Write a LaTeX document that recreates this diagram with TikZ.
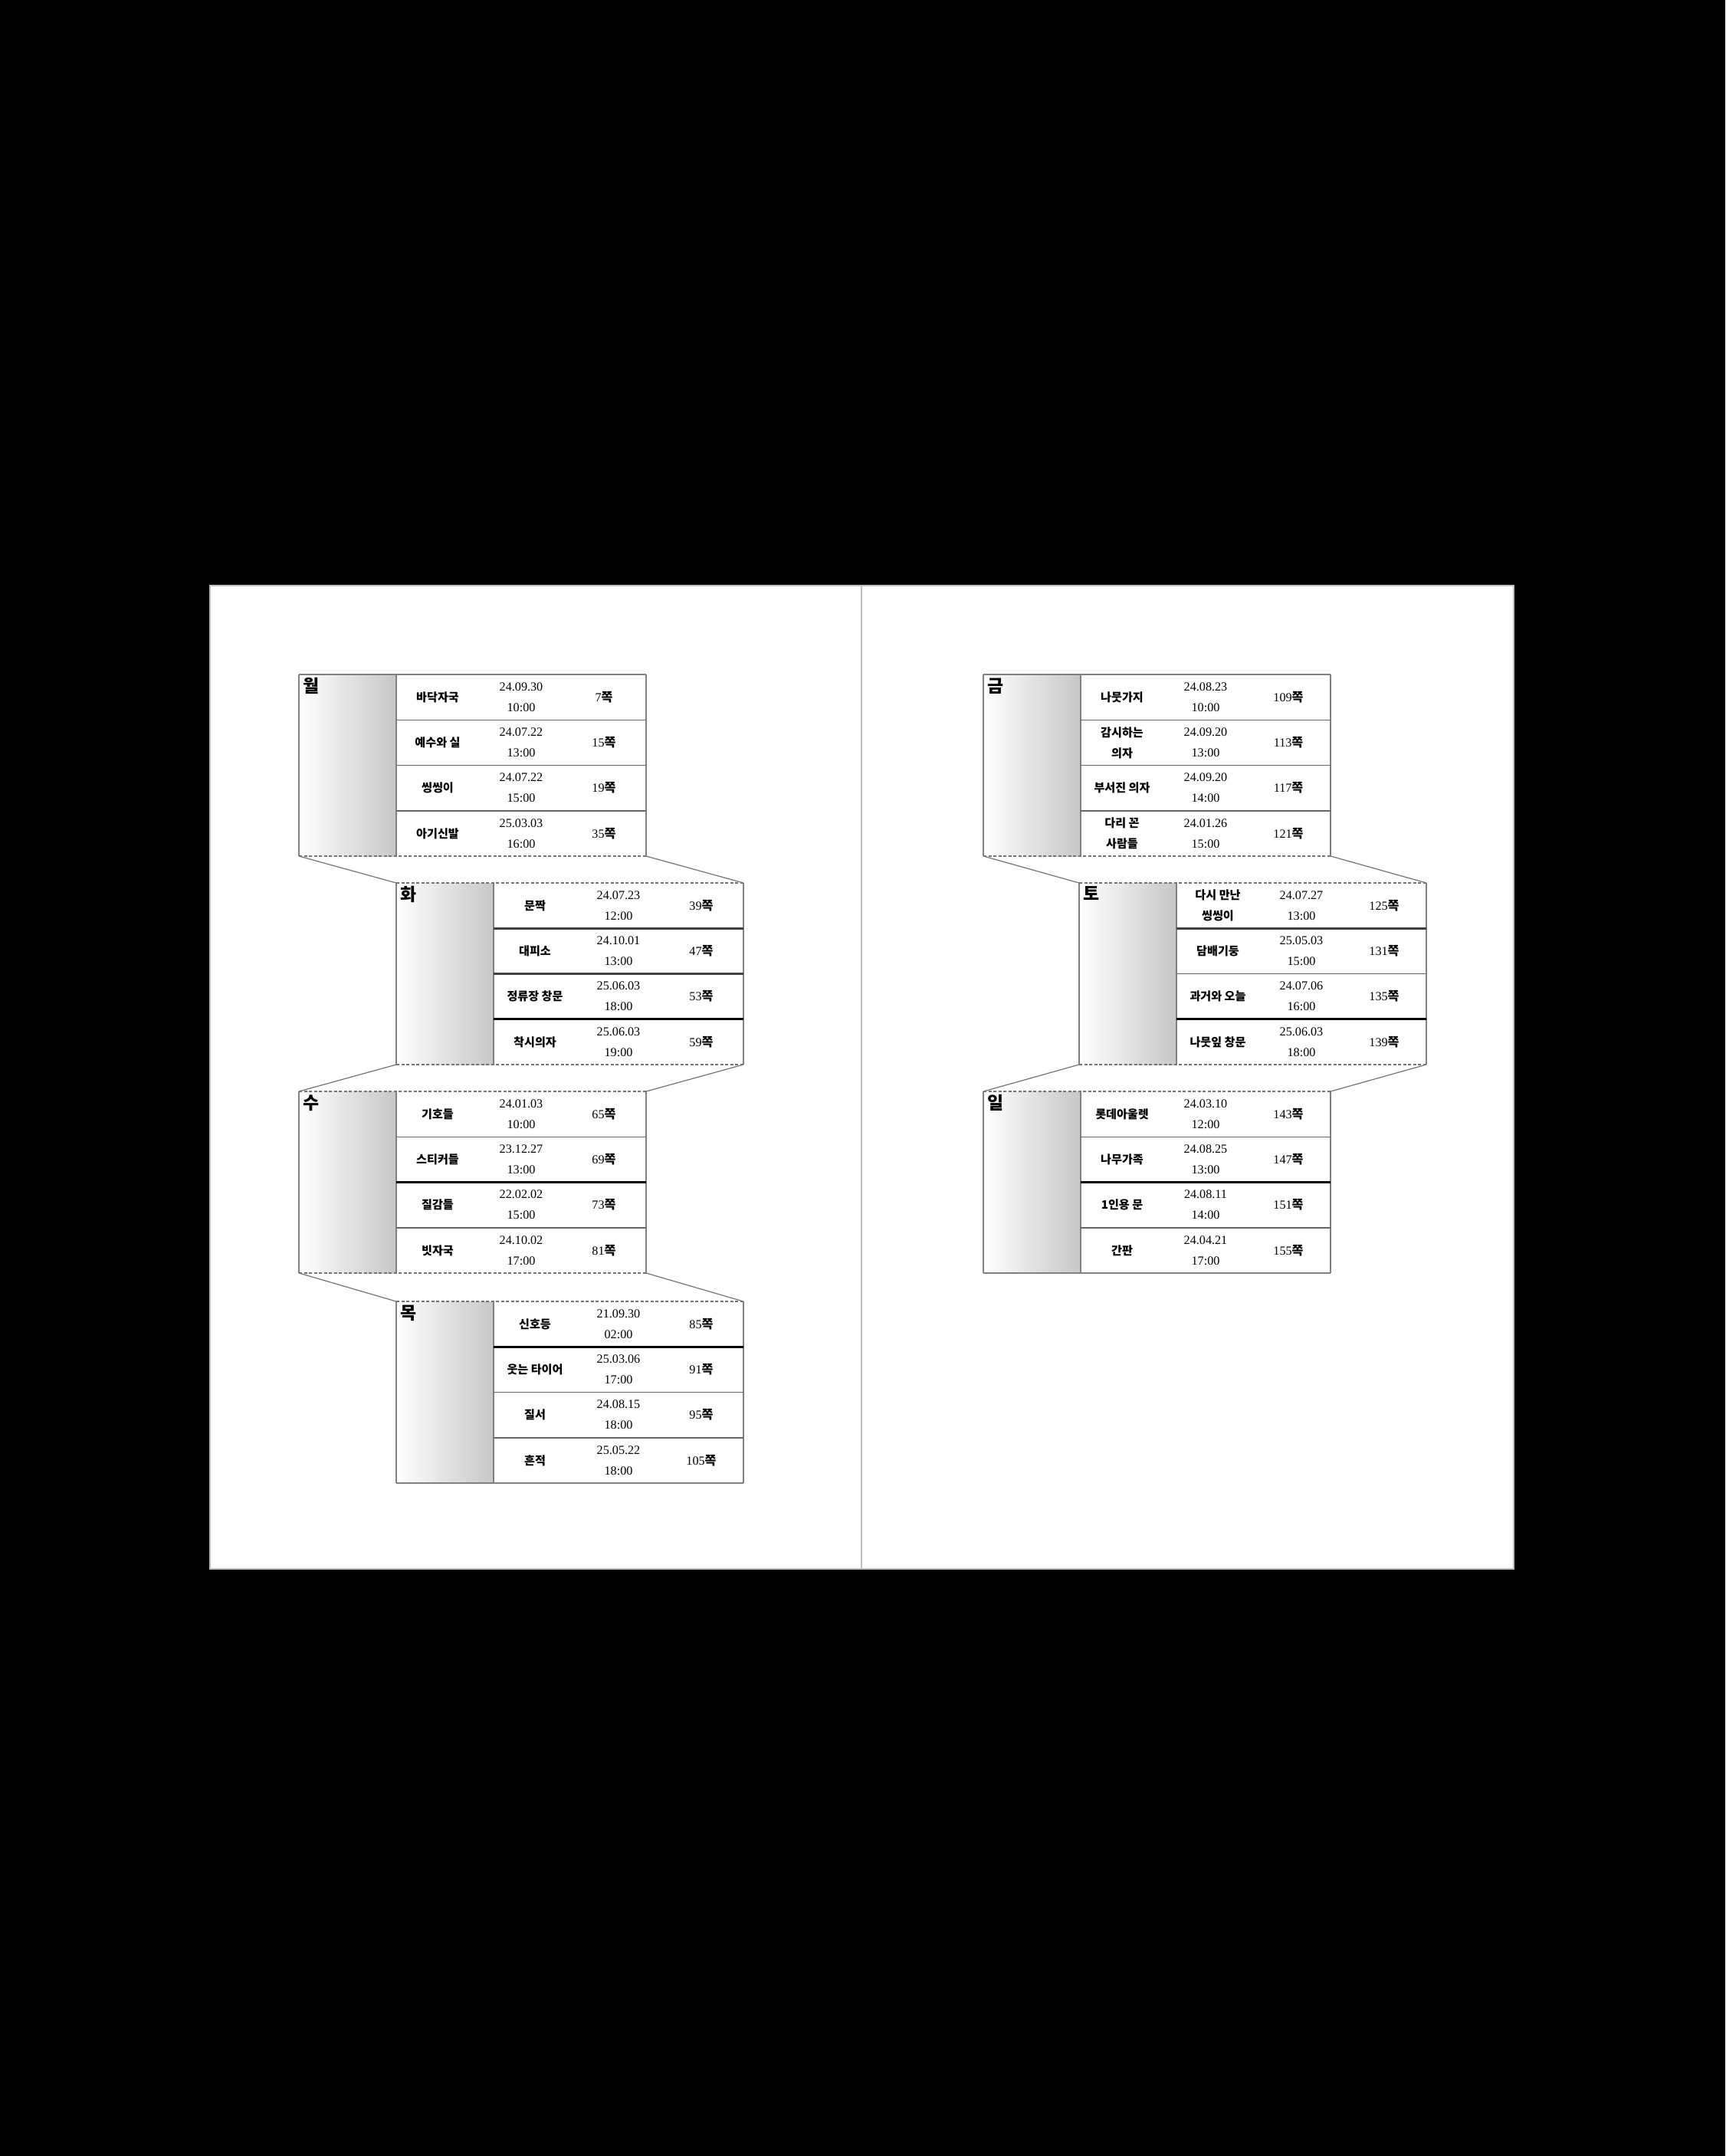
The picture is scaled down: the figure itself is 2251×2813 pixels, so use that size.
\documentclass[tikz,border=0pt]{standalone}
\usepackage{fontspec}
\setmainfont{Liberation Serif}
\newfontfamily\kr{Noto Sans CJK KR}
\usetikzlibrary{positioning}

\tikzset{
  block/.style={anchor=north west, minimum width=45.3mm, minimum height=23.7mm, inner sep=0pt, outer sep=0pt},
  daycol/.style={anchor=north west, minimum width=12.7mm, minimum height=23.7mm, inner sep=0pt, outer sep=0pt,
    left color=white, right color=black!22},
  daylabel/.style={anchor=north west, inner sep=0pt, font=\fontsize{6.5}{7}\selectfont\kr\bfseries},
  cell/.style={inner sep=0pt, align=center, font=\fontsize{4.6}{7.7}\selectfont},
  title/.style={cell, font=\fontsize{4.3}{7.7}\selectfont\kr\bfseries},
  edge/.style={draw=black!50, line width=0.2mm},
  dashedge/.style={draw=black!55, line width=0.2mm, dash pattern=on 0.4mm off 0.25mm},
  septhin/.style={draw=black!60, line width=0.15mm},
  sepmid/.style={draw=black!75, line width=0.25mm},
  sepbold/.style={draw=black, line width=0.3mm},
  nosep/.style={draw=none},
  fold/.style={draw=black!55, line width=0.12mm}
}

% one day: name, position, label, top line, bottom line
\newcommand{\dayblock}[5]{
  \node[block] (#1) at #2 {};
  \node[daycol] (#1-g) at (#1.north west) {};
  \draw[edge] (#1-g.north east) -- (#1-g.south east);
  \draw[edge] (#1.north west) -- (#1.south west);
  \draw[edge] (#1.north east) -- (#1.south east);
  \draw[#4] (#1.north west) -- (#1.north east);
  \draw[#5] (#1.south west) -- (#1.south east);
  \node[daylabel] (#1-l) at ([shift={(5,4)}]#1.north west) {#3};
}

% one row: block, row, title, date, page, line below
\newcommand{\entry}[6]{
  \node[title] (#1-t#2) at ([shift={(181,{59.25*#2-29.6})}]#1.north west) {#3};
  \node[cell] (#1-d#2) at ([shift={(290,{59.25*#2-29.6})}]#1.north west) {#4};
  \node[cell] (#1-p#2) at ([shift={(398,{59.25*#2-29.6})}]#1.north west) {#5{\kr\bfseries 쪽}};
  \draw[#6] ([shift={(127,{59.25*#2})}]#1.north west) -- ([shift={(0,{59.25*#2})}]#1.north east);
}

\begin{document}
\begin{tikzpicture}[x=0.1mm, y=-0.1mm]
  % background and pages
  \fill[black] (0,0) rectangle (2251,2813);
  \useasboundingbox (0,0) rectangle (2251,2813);
  \node[fill=white, draw=black!25, line width=0.2mm, anchor=north west, minimum width=170.1mm, minimum height=128.3mm,
    inner sep=0pt, outer sep=0pt] (spread) at (274,764) {};
  \coordinate (gutter-top) at (1124,764);
  \coordinate (gutter-bot) at (1124,2047);
  \draw[black!25, line width=0.2mm] (gutter-top) -- (gutter-bot);

  % left page
  \dayblock{mon}{(390,880)}{월}{edge}{dashedge}
  \entry{mon}{1}{바닥자국}{24.09.30\\10:00}{7}{septhin}
  \entry{mon}{2}{예수와 실}{24.07.22\\13:00}{15}{septhin}
  \entry{mon}{3}{씽씽이}{24.07.22\\15:00}{19}{septhin}
  \entry{mon}{4}{아기신발}{25.03.03\\16:00}{35}{nosep}

  \dayblock{tue}{(517,1152)}{화}{dashedge}{dashedge}
  \entry{tue}{1}{문짝}{24.07.23\\12:00}{39}{sepmid}
  \entry{tue}{2}{대피소}{24.10.01\\13:00}{47}{sepmid}
  \entry{tue}{3}{정류장 창문}{25.06.03\\18:00}{53}{sepbold}
  \entry{tue}{4}{착시의자}{25.06.03\\19:00}{59}{nosep}

  \dayblock{wed}{(390,1424)}{수}{dashedge}{dashedge}
  \entry{wed}{1}{기호들}{24.01.03\\10:00}{65}{septhin}
  \entry{wed}{2}{스티커들}{23.12.27\\13:00}{69}{sepbold}
  \entry{wed}{3}{질감들}{22.02.02\\15:00}{73}{septhin}
  \entry{wed}{4}{빗자국}{24.10.02\\17:00}{81}{nosep}

  \dayblock{thu}{(517,1698)}{목}{dashedge}{edge}
  \entry{thu}{1}{신호등}{21.09.30\\02:00}{85}{sepbold}
  \entry{thu}{2}{웃는 타이어}{25.03.06\\17:00}{91}{septhin}
  \entry{thu}{3}{질서}{24.08.15\\18:00}{95}{septhin}
  \entry{thu}{4}{흔적}{25.05.22\\18:00}{105}{nosep}

  % right page
  \dayblock{fri}{(1283,880)}{금}{edge}{dashedge}
  \entry{fri}{1}{나뭇가지}{24.08.23\\10:00}{109}{septhin}
  \entry{fri}{2}{감시하는\\의자}{24.09.20\\13:00}{113}{septhin}
  \entry{fri}{3}{부서진 의자}{24.09.20\\14:00}{117}{septhin}
  \entry{fri}{4}{다리 꼰\\사람들}{24.01.26\\15:00}{121}{nosep}

  \dayblock{sat}{(1408,1152)}{토}{dashedge}{dashedge}
  \entry{sat}{1}{다시 만난\\씽씽이}{24.07.27\\13:00}{125}{sepmid}
  \entry{sat}{2}{담배기둥}{25.05.03\\15:00}{131}{septhin}
  \entry{sat}{3}{과거와 오늘}{24.07.06\\16:00}{135}{sepbold}
  \entry{sat}{4}{나뭇잎 창문}{25.06.03\\18:00}{139}{nosep}

  \dayblock{sun}{(1283,1424)}{일}{dashedge}{edge}
  \entry{sun}{1}{롯데아울렛}{24.03.10\\12:00}{143}{septhin}
  \entry{sun}{2}{나무가족}{24.08.25\\13:00}{147}{sepbold}
  \entry{sun}{3}{1인용 문}{24.08.11\\14:00}{151}{septhin}
  \entry{sun}{4}{간판}{24.04.21\\17:00}{155}{nosep}

  % folds between the days
  \draw[fold] (mon.south west) -- (tue.north west);
  \draw[fold] (mon.south east) -- (tue.north east);
  \draw[fold] (tue.south west) -- (wed.north west);
  \draw[fold] (tue.south east) -- (wed.north east);
  \draw[fold] (wed.south west) -- (thu.north west);
  \draw[fold] (wed.south east) -- (thu.north east);
  \draw[fold] (fri.south west) -- (sat.north west);
  \draw[fold] (fri.south east) -- (sat.north east);
  \draw[fold] (sat.south west) -- (sun.north west);
  \draw[fold] (sat.south east) -- (sun.north east);
\end{tikzpicture}
\end{document}
